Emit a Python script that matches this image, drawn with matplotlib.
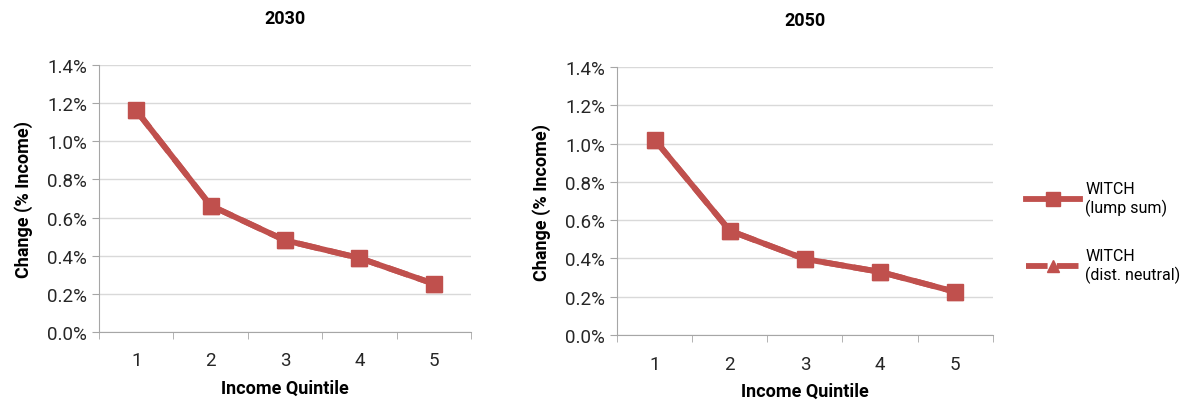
import matplotlib.pyplot as plt
from matplotlib.ticker import FuncFormatter

plt.rcParams["font.family"] = ["Roboto", "DejaVu Sans"]

quintiles = [1, 2, 3, 4, 5]
lump_2030 = [1.162, 0.663, 0.481, 0.388, 0.253]
neutral_2030 = [1.162, 0.663, 0.481, 0.388, 0.253]
lump_2050 = [1.020, 0.545, 0.397, 0.330, 0.226]
neutral_2050 = [1.020, 0.545, 0.397, 0.330, 0.226]
yticks = [0.0, 0.2, 0.4, 0.6, 0.8, 1.0, 1.2, 1.4]

red = "#C0504D"
gray = "#A6A6A6"

fig = plt.figure(figsize=(11.96, 4.02), dpi=100)
ax1 = fig.add_axes([0.0828, 0.1716, 0.311, 0.664])
ax2 = fig.add_axes([0.516, 0.164, 0.314, 0.667])

panels = [(ax1, "2030", lump_2030, neutral_2030), (ax2, "2050", lump_2050, neutral_2050)]
for ax, title, lump, neutral in panels:
    ax.plot(quintiles, neutral, color=red, lw=4.2, ls="--", marker="^",
            markersize=11, label="WITCH\n(dist. neutral)", zorder=3)
    ax.plot(quintiles, lump, color=red, lw=4.2, marker="s", markersize=12,
            label="WITCH\n(lump sum)", zorder=4)
    ax.set_xlim(0.5, 5.5)
    ax.set_ylim(0, 1.4)
    ax.set_yticks(yticks)
    ax.yaxis.set_major_formatter(FuncFormatter(lambda v, p: f"{v:.1f}%"))
    ax.set_xticks(quintiles)
    ax.set_xticks([0.5, 1.5, 2.5, 3.5, 4.5, 5.5], minor=True)
    ax.tick_params(axis="x", which="major", length=0, labelsize=13.5, pad=14)
    ax.tick_params(axis="x", which="minor", length=5, color=gray, direction="out")
    ax.tick_params(axis="y", length=5, color=gray, labelsize=13.5, labelcolor="#262626")
    ax.tick_params(axis="x", labelcolor="#262626")
    ax.grid(axis="y", color="#D9D9D9", lw=1)
    ax.set_axisbelow(True)
    for s in ["top", "right"]:
        ax.spines[s].set_visible(False)
    for s in ["left", "bottom"]:
        ax.spines[s].set_color(gray)
    ax.set_title(title, fontsize=13, fontweight="bold", pad=30)
    ax.set_xlabel("Income Quintile", fontsize=13, fontweight="bold", labelpad=7)
    ax.set_ylabel("Change (% Income)", fontsize=13, fontweight="bold", labelpad=10)

handles, labels = ax2.get_legend_handles_labels()
fig.legend(handles[::-1], labels[::-1], loc="center left", bbox_to_anchor=(0.846, 0.42),
           frameon=False, fontsize=11.5, handlelength=3.4, labelspacing=2.0,
           handletextpad=0.3, markerscale=0.8)

fig.savefig("out.png", dpi=100)
